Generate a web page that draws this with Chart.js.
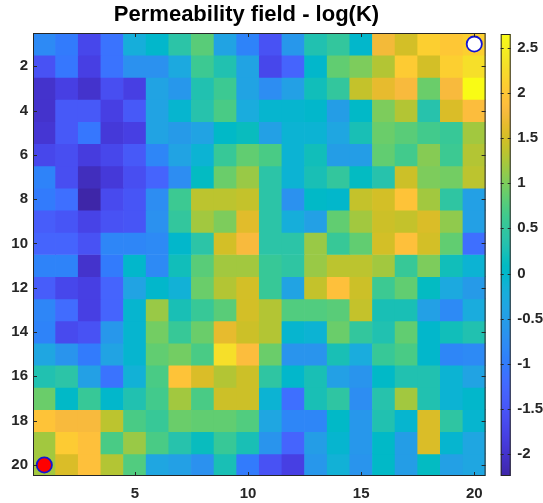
<!DOCTYPE html>
<html>
<head>
<meta charset="utf-8">
<title>Permeability field - log(K)</title>
<script src="https://cdn.jsdelivr.net/npm/chart.js@4/dist/chart.umd.min.js"></script>
<style>
  html, body { margin: 0; padding: 0; background: #fff; }
  #wrap { position: relative; width: 543px; height: 503px; }
  #field { position: absolute; left: 0; top: 0; }
  #cbar { position: absolute; left: 495px; top: 0; }
</style>
</head>
<body>
<div id="wrap">
  <canvas id="field" width="495" height="503"></canvas>
  <canvas id="cbar" width="48" height="503"></canvas>
</div>
<script>
// Grid columns (x) and rows (y), row 1 at the top
const columns = [1,2,3,4,5,6,7,8,9,10,11,12,13,14,15,16,17,18,19,20];
const rows    = [1,2,3,4,5,6,7,8,9,10,11,12,13,14,15,16,17,18,19,20];

// log(K) per row, columns 1..20
const row01 = [-0.8,-1.0,-1.7,-1.1,-0.2,0.0,0.4,0.8,-0.4,-0.9,-1.55,-0.6,0.3,0.5,0.0,1.75,1.5,2.1,2.0,2.1];
const row02 = [-1.55,-1.05,-1.8,-1.1,-0.7,-0.7,-0.3,0.6,0.3,-0.4,-1.7,-1.3,0.0,0.85,1.0,1.3,2.05,1.5,2.1,2.3];
const row03 = [-2.0,-1.8,-2.0,-1.6,-1.8,-0.4,-0.6,0.3,0.6,-0.4,-0.75,-0.45,0.2,0.5,1.4,1.65,1.8,0.9,1.8,2.65];
const row04 = [-2.0,-1.45,-1.45,-1.8,-1.45,-0.4,-0.05,0.35,0.7,-0.25,-0.05,-0.05,0.0,-0.5,0.05,1.0,1.3,0.35,1.55,1.85];
const row05 = [-1.95,-1.45,-1.05,-1.9,-1.8,-0.4,-0.55,-0.4,0.05,0.15,-0.45,-0.1,-0.1,-0.35,0.25,0.9,0.8,0.65,0.55,1.2];
const row06 = [-1.7,-1.6,-1.85,-1.7,-1.45,-0.85,-0.4,-0.1,0.55,0.85,0.7,-0.1,0.2,-0.5,-0.5,0.85,0.65,1.05,0.6,1.3];
const row07 = [-0.9,-1.6,-2.1,-1.9,-1.6,-1.3,-0.75,0.1,0.9,1.15,0.4,-0.1,0.25,0.5,0.1,0.35,1.45,1.0,0.95,1.35];
const row08 = [-1.0,-1.15,-2.24,-1.65,-1.5,-0.75,0.6,1.35,1.35,1.4,0.4,-0.7,0.05,0.0,1.4,1.5,1.95,1.2,0.45,-0.45];
const row09 = [-1.4,-1.5,-1.75,-1.55,-1.5,-0.7,0.5,1.2,1.0,1.6,0.4,-0.2,-0.45,0.85,1.2,1.45,1.4,1.55,1.1,-0.45];
const row10 = [-1.3,-1.3,-1.55,-0.85,-0.85,-0.8,0.0,0.4,1.5,1.8,0.4,0.4,1.15,0.55,0.85,1.5,1.9,1.5,0.85,-1.15];
const row11 = [-0.9,-0.9,-2.0,-1.0,0.0,-0.8,0.2,0.8,1.2,1.2,0.55,0.45,1.15,1.35,1.35,1.2,0.55,1.0,0.2,-0.1];
const row12 = [-1.4,-1.7,-1.8,-1.3,-0.4,0.0,-0.15,0.9,1.3,1.5,0.55,-0.4,1.4,1.9,1.45,0.6,0.85,0.1,-0.3,-0.55];
const row13 = [-0.85,-1.2,-1.8,-1.3,-0.05,1.15,0.25,0.55,0.8,1.5,1.3,0.75,0.75,0.8,1.4,0.25,0.25,-0.45,-0.8,-0.25];
const row14 = [-0.9,-1.65,-1.55,-0.6,-0.05,0.95,0.55,0.9,1.65,1.45,1.3,-0.05,-0.1,0.9,0.5,0.3,0.85,0.0,0.2,0.3];
const row15 = [-0.35,-0.65,-1.0,-0.4,-0.05,0.85,0.95,0.7,2.3,1.85,0.9,-0.65,-0.65,0.25,-0.25,0.55,0.7,0.0,-0.85,-0.8];
const row16 = [0.3,0.4,-0.45,-1.1,-0.15,0.7,1.95,1.55,1.3,1.45,0.45,0.0,0.25,-0.45,-0.65,0.05,0.3,0.3,-0.1,-0.4];
const row17 = [0.9,0.05,0.55,0.0,0.3,0.65,1.2,0.7,1.45,1.45,-0.1,-1.15,0.25,0.45,-0.75,0.35,1.2,0.3,-0.1,0.0];
const row18 = [1.95,1.8,1.8,1.35,0.7,0.55,0.9,0.85,0.85,0.75,-0.35,-0.85,-0.85,0.05,-0.6,0.3,-0.05,1.55,0.45,-0.05];
const row19 = [1.2,2.05,1.9,0.7,1.15,0.7,0.35,0.15,0.55,0.25,-0.65,-1.3,-0.5,-0.05,-0.6,0.05,-0.5,1.55,-0.05,-0.35];
const row20 = [1.2,1.55,1.9,1.3,0.75,-0.35,-0.45,-0.7,0.25,-1.0,-1.55,-1.8,-0.6,-0.15,-0.65,0.05,-0.5,0.1,-0.45,-0.35];
const fieldRows = [row01,row02,row03,row04,row05,row06,row07,row08,row09,row10,
                   row11,row12,row13,row14,row15,row16,row17,row18,row19,row20];

// Well locations (column, row)
const injector = { x: 20, y: 1 };
const producer = { x: 1, y: 20 };

// Axis and colorbar ticks
const xTickValues = [5, 10, 15, 20];
const yTickValues = [2, 4, 6, 8, 10, 12, 14, 16, 18, 20];
const cTickValues = [-2, -1.5, -1, -0.5, 0, 0.5, 1, 1.5, 2, 2.5];

// Colour limits follow the data range
const allValues = fieldRows.flat();
const cMin = Math.min(...allValues);
const cMax = Math.max(...allValues);

// Parula colormap, 64 entries
const parula = [
[0.2422,0.1504,0.6603],[0.2504,0.1650,0.7076],[0.2578,0.1818,0.7511],[0.2647,0.1978,0.7952],
[0.2706,0.2147,0.8364],[0.2751,0.2342,0.8710],[0.2783,0.2559,0.8991],[0.2803,0.2782,0.9221],
[0.2813,0.3006,0.9414],[0.2810,0.3228,0.9579],[0.2795,0.3447,0.9717],[0.2760,0.3667,0.9829],
[0.2699,0.3892,0.9906],[0.2602,0.4123,0.9952],[0.2440,0.4358,0.9988],[0.2206,0.4603,0.9973],
[0.1963,0.4847,0.9892],[0.1834,0.5074,0.9798],[0.1786,0.5289,0.9682],[0.1764,0.5499,0.9520],
[0.1687,0.5703,0.9359],[0.1540,0.5902,0.9218],[0.1460,0.6091,0.9079],[0.1380,0.6276,0.8973],
[0.1248,0.6459,0.8883],[0.1113,0.6635,0.8763],[0.0952,0.6798,0.8598],[0.0689,0.6948,0.8394],
[0.0297,0.7082,0.8163],[0.0036,0.7203,0.7917],[0.0067,0.7312,0.7660],[0.0433,0.7411,0.7394],
[0.0964,0.7500,0.7120],[0.1408,0.7584,0.6842],[0.1717,0.7670,0.6554],[0.1938,0.7758,0.6251],
[0.2161,0.7843,0.5923],[0.2470,0.7918,0.5567],[0.2906,0.7973,0.5188],[0.3406,0.8008,0.4789],
[0.3909,0.8029,0.4354],[0.4456,0.8024,0.3909],[0.5044,0.7993,0.3480],[0.5616,0.7942,0.3045],
[0.6174,0.7876,0.2612],[0.6720,0.7793,0.2227],[0.7242,0.7698,0.1910],[0.7738,0.7598,0.1646],
[0.8203,0.7498,0.1535],[0.8634,0.7406,0.1596],[0.9035,0.7330,0.1774],[0.9393,0.7288,0.2100],
[0.9728,0.7298,0.2394],[0.9956,0.7434,0.2371],[0.9970,0.7659,0.2199],[0.9952,0.7893,0.2028],
[0.9892,0.8136,0.1885],[0.9786,0.8386,0.1766],[0.9676,0.8639,0.1643],[0.9610,0.8890,0.1537],
[0.9597,0.9135,0.1423],[0.9628,0.9373,0.1265],[0.9691,0.9606,0.1064],[0.9769,0.9839,0.0805]
];

function rgbOf(c) {
  return 'rgb(' + Math.round(c[0] * 255) + ',' + Math.round(c[1] * 255) + ',' + Math.round(c[2] * 255) + ')';
}

function colourFor(v) {
  let t = (v - cMin) / (cMax - cMin);
  t = Math.max(0, Math.min(1, t));
  const pos = t * (parula.length - 1);
  const i = Math.min(parula.length - 2, Math.floor(pos));
  const f = pos - i;
  const a = parula[i], b = parula[i + 1];
  return rgbOf([a[0] + (b[0] - a[0]) * f, a[1] + (b[1] - a[1]) * f, a[2] + (b[2] - a[2]) * f]);
}

const axisColour = '#262626';
const tickFont = { family: 'Liberation Sans', size: 15, weight: 'bold' };

// One floating-bar dataset per grid row: each cell spans [row - 0.5, row + 0.5]
const cellDatasets = rows.map((r, ri) => ({
  type: 'bar',
  data: columns.map(c => ({ x: c, y: [r - 0.5, r + 0.5] })),
  backgroundColor: fieldRows[ri].map(colourFor),
  borderWidth: 0,
  grouped: false,
  barPercentage: 1,
  categoryPercentage: 1,
  order: 1
}));

const wellDatasets = [
  {
    type: 'scatter',
    data: [injector],
    pointRadius: 7.6,
    pointBackgroundColor: '#ffffff',
    pointBorderColor: '#1414d2',
    pointBorderWidth: 1.8,
    order: -1
  },
  {
    type: 'scatter',
    data: [producer],
    pointRadius: 7.6,
    pointBackgroundColor: '#ff0000',
    pointBorderColor: '#1414d2',
    pointBorderWidth: 1.8,
    order: -1
  }
];

// Axes box with inward tick marks on all four sides
const axesBox = {
  id: 'axesBox',
  afterDraw(chart) {
    const { ctx, chartArea: a, scales } = chart;
    const len = 4;
    ctx.save();
    ctx.strokeStyle = axisColour;
    ctx.lineWidth = 1;
    ctx.beginPath();
    scales.x.ticks.forEach(t => {
      const px = Math.round(scales.x.getPixelForValue(t.value)) + 0.5;
      ctx.moveTo(px, a.bottom); ctx.lineTo(px, a.bottom - len);
      ctx.moveTo(px, a.top); ctx.lineTo(px, a.top + len);
    });
    scales.y.ticks.forEach(t => {
      const py = Math.round(scales.y.getPixelForValue(t.value)) + 0.5;
      ctx.moveTo(a.left, py); ctx.lineTo(a.left + len, py);
      ctx.moveTo(a.right, py); ctx.lineTo(a.right - len, py);
    });
    ctx.stroke();
    ctx.strokeRect(a.left + 0.5, a.top + 0.5, a.right - a.left - 1, a.bottom - a.top - 1);
    ctx.restore();
  }
};

new Chart(document.getElementById('field'), {
  type: 'bar',
  data: { datasets: [...wellDatasets, ...cellDatasets] },
  options: {
    responsive: false,
    animation: false,
    events: [],
    layout: { padding: { left: 0, right: 2, top: 0, bottom: 0 } },
    plugins: {
      legend: { display: false },
      tooltip: { enabled: false },
      title: {
        display: true,
        text: 'Permeability field - log(K)',
        color: '#000000',
        font: { family: 'Liberation Sans', size: 22, weight: 'bold', lineHeight: 1.2 },
        padding: { top: 2, bottom: 4.6 }
      }
    },
    scales: {
      x: {
        type: 'linear',
        min: 0.5,
        max: 20.5,
        offset: false,
        grid: { display: false, drawTicks: false },
        border: { display: false },
        ticks: { font: tickFont, color: axisColour, padding: 9, maxRotation: 0 },
        afterBuildTicks: s => { s.ticks = xTickValues.map(v => ({ value: v })); },
        afterFit: s => { s.height = 27; }
      },
      y: {
        type: 'linear',
        reverse: true,
        min: 0.5,
        max: 20.5,
        grid: { display: false, drawTicks: false },
        border: { display: false },
        ticks: { font: tickFont, color: axisColour, padding: 5 },
        afterBuildTicks: s => { s.ticks = yTickValues.map(v => ({ value: v })); },
        afterFit: s => { s.width = 33; }
      }
    }
  },
  plugins: [axesBox]
});

// Colorbar: one floating bar across the full colour range, filled with the colormap
const colorbarFrame = {
  id: 'colorbarFrame',
  afterDraw(chart) {
    const { ctx, chartArea: a, scales } = chart;
    const len = 3;
    ctx.save();
    ctx.strokeStyle = axisColour;
    ctx.lineWidth = 1;
    ctx.beginPath();
    scales.y.ticks.forEach(t => {
      const py = Math.round(scales.y.getPixelForValue(t.value)) + 0.5;
      ctx.moveTo(a.left, py); ctx.lineTo(a.left + len, py);
      ctx.moveTo(a.right, py); ctx.lineTo(a.right - len, py);
    });
    ctx.stroke();
    ctx.strokeRect(a.left + 0.5, a.top + 0.5, a.right - a.left - 1, a.bottom - a.top - 1);
    ctx.restore();
  }
};

new Chart(document.getElementById('cbar'), {
  type: 'bar',
  data: {
    labels: [''],
    datasets: [{
      data: [[cMin, cMax]],
      borderWidth: 0,
      barPercentage: 1,
      categoryPercentage: 1,
      backgroundColor: ctx => {
        const area = ctx.chart.chartArea;
        if (!area) return rgbOf(parula[32]);
        const g = ctx.chart.ctx.createLinearGradient(0, area.bottom, 0, area.top);
        parula.forEach((c, i) => g.addColorStop(i / (parula.length - 1), rgbOf(c)));
        return g;
      }
    }]
  },
  options: {
    responsive: false,
    animation: false,
    events: [],
    layout: { padding: { left: 5.7, right: 0, top: 34, bottom: 27 } },
    plugins: { legend: { display: false }, tooltip: { enabled: false } },
    scales: {
      x: { display: false },
      y: {
        position: 'right',
        min: cMin,
        max: cMax,
        grid: { display: false, drawTicks: false },
        border: { display: false },
        ticks: { font: tickFont, color: axisColour, padding: 6.5, callback: v => String(v) },
        afterBuildTicks: s => { s.ticks = cTickValues.map(v => ({ value: v })); },
        afterFit: s => { s.width = 32.3; }
      }
    }
  },
  plugins: [colorbarFrame]
});
</script>
</body>
</html>
